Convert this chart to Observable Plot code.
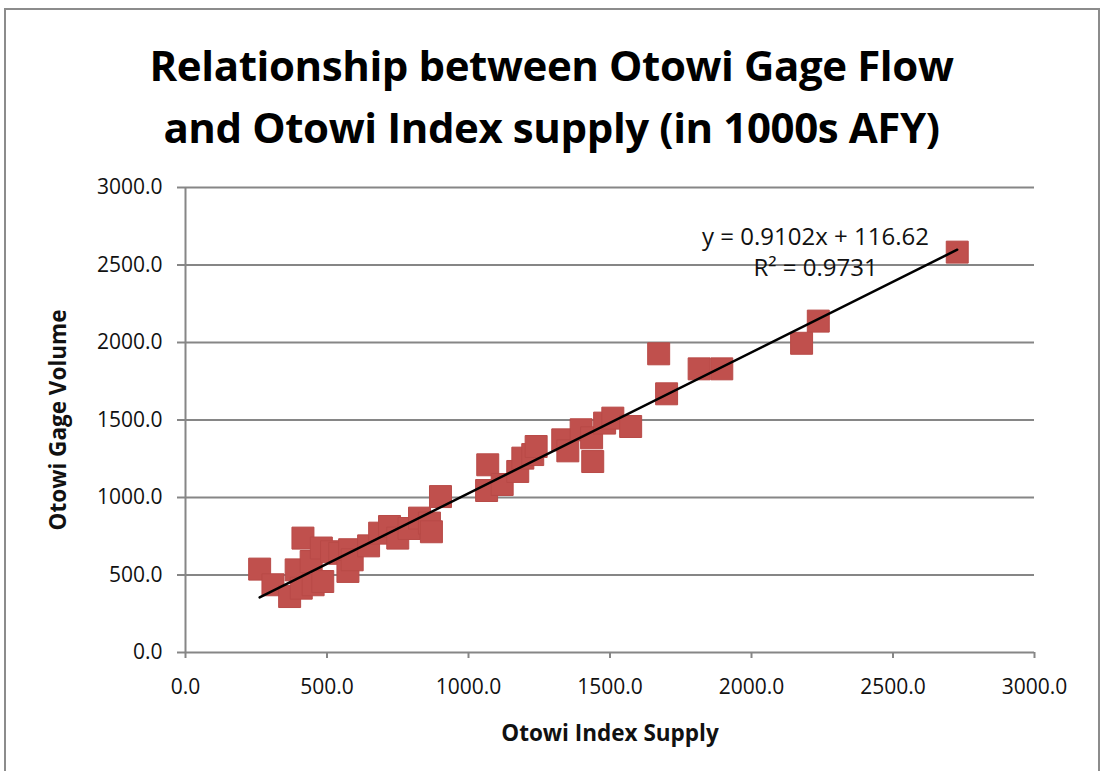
<!DOCTYPE html>
<html>
<head>
<meta charset="utf-8">
<script src="https://cdn.jsdelivr.net/npm/d3@7"></script>
<script src="https://cdn.jsdelivr.net/npm/@observablehq/plot@0.6"></script>
<style>
  html, body { margin: 0; padding: 0; background: #fff; }
  body { width: 1103px; height: 771px; position: relative; overflow: hidden; font-family: "Open Sans", sans-serif; }
  #frame { position: absolute; left: 4px; top: 8px; width: 1096px; height: 775px; border: 2px solid #8c8c8c; box-sizing: border-box; }
  #title { position: absolute; left: 0; top: 34px; width: 1103px; text-align: center; font-weight: 700; font-size: 42px; line-height: 62px; color: #000; letter-spacing: -0.4px; }
  #chart { position: absolute; left: 0; top: 170px; }
</style>
</head>
<body>
<div id="frame"></div>
<div id="title">Relationship between Otowi Gage Flow<br>and Otowi Index supply (in 1000s AFY)</div>
<div id="chart"></div>
<script>
// Otowi Index Supply (x) and Otowi Gage Volume (y), in 1000s AFY
const indexSupply = [262, 309, 368, 391, 415, 409, 444, 451, 480, 485, 516, 545, 580, 574, 589, 647, 686, 721, 750, 790, 827, 862, 869, 901,
  1068, 1064, 1119, 1174, 1192, 1227, 1239, 1333, 1351, 1398, 1435, 1439, 1481, 1510, 1573,
  1672, 1700, 1815, 1895, 2177, 2236, 2727];
const gageVolume = [538, 437, 361, 533, 738, 415, 587, 437, 674, 458, 650, 640, 663, 523, 598, 688, 770, 813, 738, 800, 867, 835, 779, 1006,
  1211, 1045, 1084, 1168, 1254, 1277, 1329, 1372, 1301, 1437, 1385, 1232, 1480, 1512, 1458,
  1927, 1669, 1830, 1830, 1995, 2138, 2583];
const trendSlope = 0.9102;
const trendIntercept = 116.62;
const trendLabel = "y = 0.9102x + 116.62\nR\u00B2 = 0.9731";
const xTicks = [0, 500, 1000, 1500, 2000, 2500, 3000];
const yTicks = [0, 500, 1000, 1500, 2000, 2500, 3000];
const xTitle = "Otowi Index Supply";
const yTitle = "Otowi Gage Volume";

const points = indexSupply.map((x, i) => ({x, y: gageVolume[i]}));
const [xmin, xmax] = d3.extent(indexSupply);
const trend = [xmin, xmax].map(x => ({x, y: trendSlope * x + trendIntercept}));

const grid = "#868686";
const fmt = d3.format(".1f");

const chart = Plot.plot({
  width: 1103,
  height: 600,
  marginLeft: 185,
  marginRight: 69,
  marginTop: 17,
  marginBottom: 118,
  style: {fontFamily: "Open Sans, sans-serif", fontSize: "21px", color: "#111", background: "transparent"},
  x: {domain: [0, 3000]},
  y: {domain: [0, 3000]},
  marks: [
    Plot.ruleY(yTicks.filter(d => d > 0), {stroke: grid, strokeWidth: 2}),
    Plot.ruleX([0], {stroke: grid, strokeWidth: 2}),
    Plot.ruleY([0], {stroke: grid, strokeWidth: 2}),
    Plot.axisX({ticks: xTicks, tickFormat: fmt, tickSize: 6, tickPadding: 21, stroke: grid, strokeWidth: 2,
      label: xTitle, labelAnchor: "center", labelArrow: "none", labelOffset: 88}),
    Plot.axisY({ticks: yTicks, tickFormat: fmt, tickSize: 8, tickPadding: 15, stroke: grid, strokeWidth: 2,
      label: yTitle, labelAnchor: "center", labelArrow: "none", labelOffset: 135}),
    Plot.dot(points, {x: "x", y: "y", symbol: "square", r: 12.4, fill: "#c0504d", stroke: "#b84a47", strokeWidth: 1, strokeLinejoin: "round"}),
    Plot.line(trend, {x: "x", y: "y", stroke: "#000", strokeWidth: 2.5}),
    Plot.text([trendLabel], {frameAnchor: "top-left", dx: 630, dy: 35, textAnchor: "middle", lineAnchor: "top", lineHeight: 1.3, fontSize: 24, fill: "#111"})
  ]
});
// bold axis titles
chart.querySelectorAll("[aria-label='x-axis label'], [aria-label='y-axis label']").forEach(g => {
  g.setAttribute("font-weight", "700");
  g.setAttribute("font-size", "22.5");
});
document.getElementById("chart").appendChild(chart);
</script>
</body>
</html>
